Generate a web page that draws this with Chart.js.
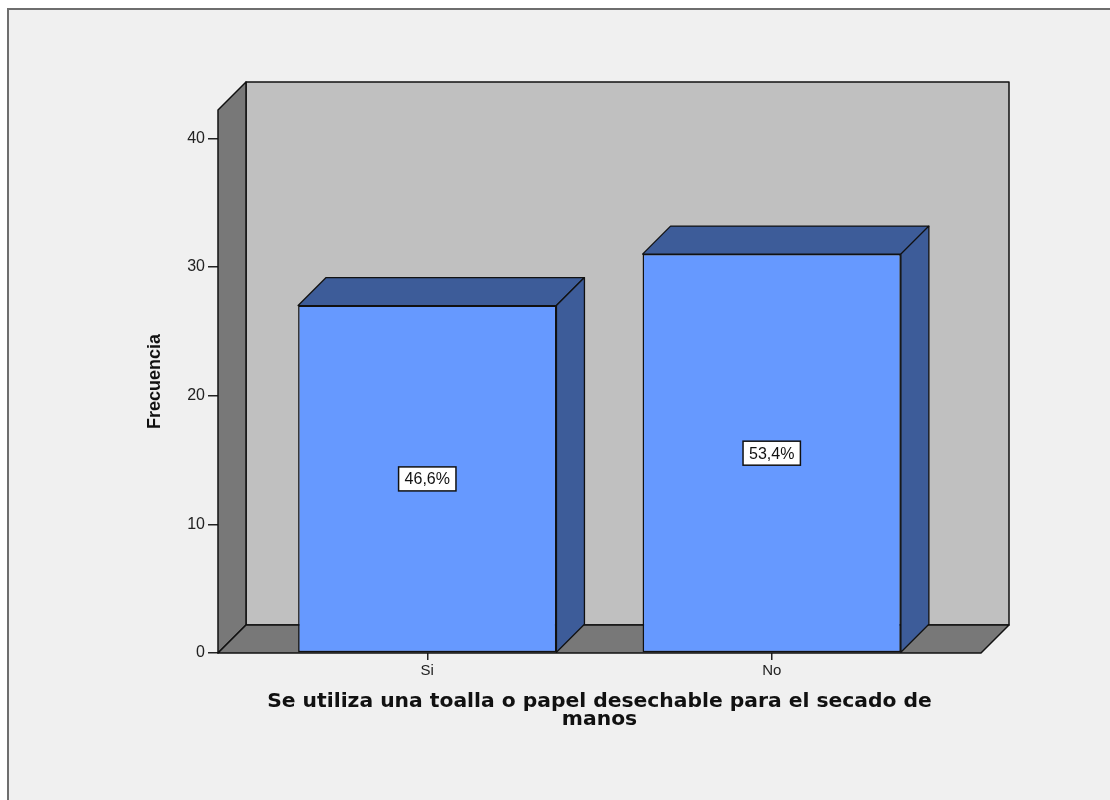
<!DOCTYPE html>
<html>
<head>
<meta charset="utf-8">
<script src="https://cdn.jsdelivr.net/npm/chart.js@4.4.1/dist/chart.umd.min.js"></script>
<style>
  html, body { margin: 0; padding: 0; background: #fff; }
  #wrap { width: 1110px; height: 800px; }
</style>
</head>
<body>
<div id="wrap"><canvas id="chart" width="1110" height="800"></canvas></div>
<script>
// Data
const categories = ['Si', 'No'];
const frequencies = [27, 31];
const yTicks = [0, 10, 20, 30, 40];
const xTitle = ['Se utiliza una toalla o papel desechable para el secado de', 'manos'];
const yTitle = 'Frecuencia';

const total = frequencies.reduce((a, b) => a + b, 0);
const percentLabels = frequencies.map(v => (v / total * 100).toFixed(1).replace('.', ',') + '%');

// 3D look
const DEPTH = 28;
const FRONT = '#6699ff';
const SIDE = '#3d5c99';
const WALL = '#c0c0c0';
const WALL_DARK = '#787878';
const FONT = '"Liberation Sans", Arial, sans-serif';

function poly(ctx, pts, fill) {
    ctx.beginPath();
    ctx.moveTo(pts[0][0], pts[0][1]);
    for (let i = 1; i < pts.length; i++) ctx.lineTo(pts[i][0], pts[i][1]);
    ctx.closePath();
    ctx.fillStyle = fill;
    ctx.fill();
    ctx.stroke();
}

const frame3d = {
    id: 'frame3d',
    beforeDraw(chart) {
        const ctx = chart.ctx;
        ctx.save();
        ctx.fillStyle = '#fff';
        ctx.fillRect(0, 0, chart.width, chart.height);
        ctx.fillStyle = '#f0f0f0';
        ctx.fillRect(8, 9, chart.width, chart.height);
        ctx.strokeStyle = '#6e6e6e';
        ctx.lineWidth = 2;
        ctx.beginPath();
        ctx.moveTo(8, chart.height);
        ctx.lineTo(8, 9);
        ctx.lineTo(chart.width, 9);
        ctx.stroke();
        ctx.restore();
    },
    beforeDatasetsDraw(chart) {
        const { ctx, chartArea: a } = chart;
        const d = DEPTH;
        ctx.save();
        ctx.strokeStyle = '#111';
        ctx.lineWidth = 1.5;
        ctx.lineJoin = 'round';
        // back wall, left wall, floor
        poly(ctx, [[a.left + d, a.top - d], [a.right + d, a.top - d], [a.right + d, a.bottom - d], [a.left + d, a.bottom - d]], WALL);
        poly(ctx, [[a.left, a.top], [a.left + d, a.top - d], [a.left + d, a.bottom - d], [a.left, a.bottom]], WALL_DARK);
        poly(ctx, [[a.left, a.bottom], [a.left + d, a.bottom - d], [a.right + d, a.bottom - d], [a.right, a.bottom]], WALL_DARK);
        // top and side of each bar
        ctx.lineWidth = 1.3;
        chart.getDatasetMeta(0).data.forEach(bar => {
            const l = bar.x - bar.width / 2, r = bar.x + bar.width / 2;
            poly(ctx, [[l, bar.y], [l + d, bar.y - d], [r + d, bar.y - d], [r, bar.y]], SIDE);
            poly(ctx, [[r, bar.y], [r + d, bar.y - d], [r + d, bar.base - d], [r, bar.base]], SIDE);
        });
        ctx.restore();
    },
    afterDatasetsDraw(chart) {
        const ctx = chart.ctx;
        ctx.save();
        ctx.font = '16px ' + FONT;
        ctx.textAlign = 'center';
        ctx.textBaseline = 'middle';
        chart.getDatasetMeta(0).data.forEach((bar, i) => {
            const txt = percentLabels[i];
            const cy = (bar.y + bar.base) / 2;
            const bw = ctx.measureText(txt).width + 12, bh = 24;
            ctx.fillStyle = '#fff';
            ctx.fillRect(bar.x - bw / 2, cy - bh / 2, bw, bh);
            ctx.strokeStyle = '#111';
            ctx.lineWidth = 1.5;
            ctx.strokeRect(bar.x - bw / 2, cy - bh / 2, bw, bh);
            ctx.fillStyle = '#111';
            ctx.fillText(txt, bar.x, cy + 1);
        });
        ctx.restore();
    }
};

new Chart(document.getElementById('chart'), {
    type: 'bar',
    data: {
        datasets: [{
            data: categories.map((c, i) => ({ x: i, y: frequencies[i] })),
            backgroundColor: FRONT,
            borderColor: '#111',
            borderWidth: 1.5,
            borderSkipped: false,
            barPercentage: 0.75,
            categoryPercentage: 1,
            clip: false
        }]
    },
    options: {
        responsive: false,
        animation: false,
        layout: { padding: { top: 110, right: 129, left: 0, bottom: 0 } },
        plugins: { legend: { display: false }, tooltip: { enabled: false } },
        scales: {
            x: {
                type: 'linear',
                offset: false,
                min: -0.6076,
                max: 1.6076,
                afterBuildTicks(s) { s.ticks = categories.map((c, i) => ({ value: i })); },
                afterFit(s) { s.height = 147; },
                ticks: {
                    callback: v => categories[v],
                    font: { family: FONT, size: 15 },
                    color: '#222',
                    padding: 2,
                    maxRotation: 0
                },
                grid: { offset: false, drawOnChartArea: false, tickLength: 7, color: '#222', lineWidth: 1.5 },
                border: { display: false },
                title: {
                    display: true,
                    text: xTitle,
                    color: '#111',
                    font: { family: '"DejaVu Sans", Verdana, sans-serif', size: 20.3, weight: 'bold', lineHeight: '18.5px' },
                    padding: { top: 0, bottom: 70.75 }
                }
            },
            y: {
                min: 0,
                max: 42.2,
                afterBuildTicks(s) { s.ticks = yTicks.map(v => ({ value: v })); },
                afterFit(s) { s.width = 218; },
                ticks: { font: { family: FONT, size: 16 }, color: '#222', padding: 3 },
                grid: { drawOnChartArea: false, tickLength: 10, color: '#222', lineWidth: 1.5 },
                border: { display: false },
                title: {
                    display: true,
                    text: yTitle,
                    color: '#111',
                    font: { family: FONT, size: 18, weight: 'bold' },
                    padding: { top: 144.7, bottom: 0 }
                }
            }
        }
    },
    plugins: [frame3d]
});
</script>
</body>
</html>
